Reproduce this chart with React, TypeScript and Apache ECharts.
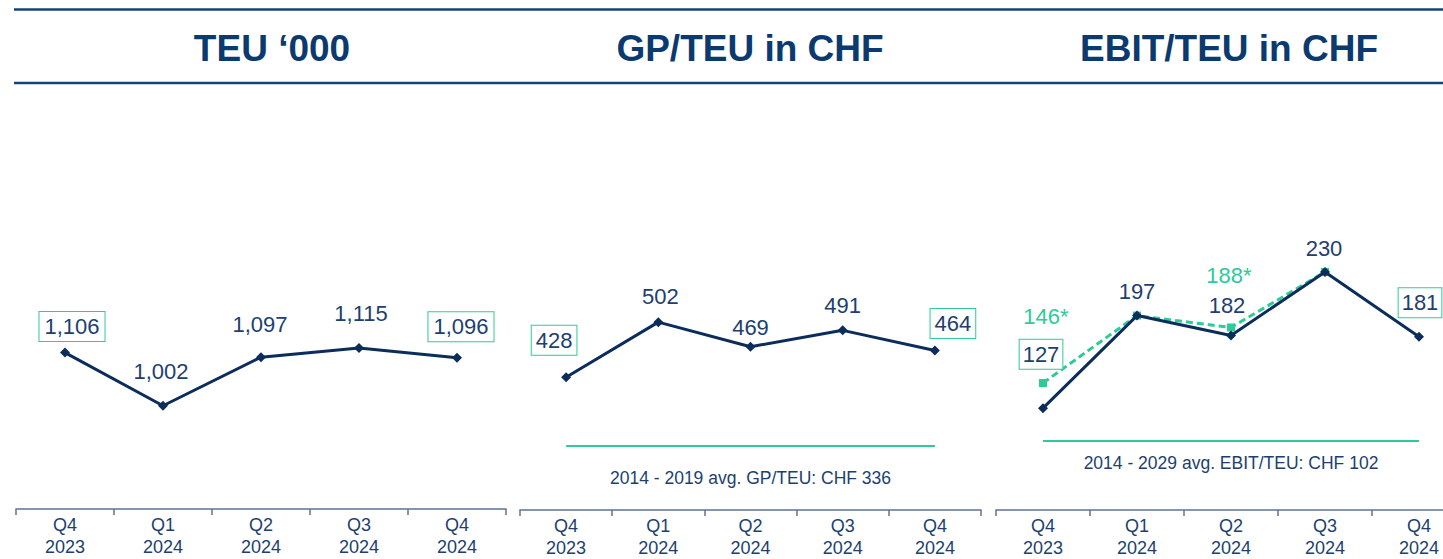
import React, { useEffect, useRef } from 'react';
import * as echarts from 'echarts';

// ---- data ----
const quarters = ['Q4', 'Q1', 'Q2', 'Q3', 'Q4'];
const years = ['2023', '2024', '2024', '2024', '2024'];
const categories = quarters.map((q, i) => `${q}\n${years[i]}`);

const titles = ['TEU \u2018000', 'GP/TEU in CHF', 'EBIT/TEU in CHF'];

const teu = [1106, 1002, 1097, 1115, 1096];
const teuBoxed = [true, false, false, false, true];

const gpPerTeu = [428, 502, 469, 491, 464];
const gpBoxed = [true, false, false, false, true];
const gpAvg = 336;
const gpAvgLabel = '2014 - 2019 avg. GP/TEU: CHF 336';

const ebitPerTeu = [127, 197, 182, 230, 181];
const ebitBoxed = [true, false, false, false, true];
const ebitAdjusted = [146, 197, 188, 230, null];
const ebitAdjustedLabelled = [true, false, true, false, false];
const ebitAvg = 102;
const ebitAvgLabel = '2014 - 2029 avg. EBIT/TEU: CHF 102';

// ---- styles ----
const NAVY = '#0b2d5b';
const TITLE = '#0b3a6f';
const TEXT = '#213f6e';
const GREEN = '#2ccb98';
const AXIS = '#5d7393';
const FONT = '"Liberation Sans", Arial, sans-serif';

const teuOffsets = [[7, -26], [-2, -34], [-1, -33], [2, -34], [4, -31]];
const gpOffsets = [[-12, -37], [2, -26], [0, -19], [0, -25], [18, -27]];
const ebitOffsets = [[-2, -54], [0, -24], [-4, -30], [-1, -23], [1, -34]];
const adjOffsets = [[3, -67], [0, 0], [-2, -52], [0, 0], [0, 0]];
const boxPadding = [[4, 5, 3, 5], [4, 4, 3, 4], [4, 3, 3, 3]];

const fmt = (v: number) => v.toLocaleString('en-US');

function labelled(values: number[], boxed: boolean[], offsets: number[][], pad: number[]) {
  return values.map((v, i) => ({
    value: v,
    label: {
      show: true,
      position: 'inside',
      offset: offsets[i],
      formatter: fmt(v),
      fontSize: 22,
      fontFamily: FONT,
      color: TEXT,
      borderColor: boxed[i] ? GREEN : 'transparent',
      borderWidth: boxed[i] ? 1 : 0,
      padding: boxed[i] ? pad : 0,
      backgroundColor: boxed[i] ? '#ffffff' : 'transparent',
    },
  }));
}

export default function App() {
  const ref = useRef<HTMLDivElement>(null);
  useEffect(() => {
    if (!ref.current) return;
    const chart = echarts.init(ref.current, undefined, { renderer: 'svg' });

    const grids = [
      { left: 16, top: 100, width: 490, height: 409 },
      { left: 520, top: 100, width: 461, height: 410 },
      { left: 996, top: 100, width: 470, height: 411 },
    ];
    const yRanges = [
      [800, 1600],
      [250, 800],
      [50, 360],
    ];

    const xAxis = grids.map((_, i) => ({
      type: 'category',
      gridIndex: i,
      data: categories,
      boundaryGap: true,
      axisLine: { show: true, lineStyle: { color: AXIS, width: 1.5 } },
      axisTick: { show: true, length: 6, lineStyle: { color: AXIS, width: 1.5 } },
      axisLabel: {
        color: TEXT,
        fontSize: 18,
        lineHeight: 22,
        fontFamily: FONT,
        margin: 5,
        interval: 0,
      },
    }));
    const yAxis = yRanges.map((r, i) => ({
      type: 'value',
      gridIndex: i,
      min: r[0],
      max: r[1],
      show: false,
      splitLine: { show: false },
    }));

    const lineBase = {
      type: 'line',
      symbol: 'diamond',
      symbolSize: 10,
      lineStyle: { color: NAVY, width: 3 },
      itemStyle: { color: NAVY },
      z: 5,
    };

    const avgMark = (value: number, text: string, distance: number) => ({
      silent: true,
      symbol: ['none', 'none'],
      lineStyle: { color: GREEN, width: 2, type: 'solid' },
      label: {
        show: true,
        position: 'insideMiddleBottom',
        distance,
        formatter: text,
        color: TEXT,
        fontSize: 17.5,
        fontFamily: FONT,
      },
      data: [[{ coord: [0, value] }, { coord: [4, value] }]],
    });

    const option = {
      animation: false,
      backgroundColor: '#ffffff',
      grid: grids,
      xAxis,
      yAxis,
      graphic: [
        { type: 'line', shape: { x1: 14, y1: 9.5, x2: 1443, y2: 9.5 }, style: { stroke: '#12437d', lineWidth: 2.5 } },
        { type: 'line', shape: { x1: 14, y1: 83, x2: 1443, y2: 83 }, style: { stroke: '#12437d', lineWidth: 2.5 } },
        ...titles.map((t, i) => ({
          type: 'text',
          x: [272, 750, 1229][i],
          y: 48,
          style: {
            text: t,
            fill: TITLE,
            font: `bold 37px ${FONT}`,
            textAlign: 'center',
            textVerticalAlign: 'middle',
          },
        })),
      ],
      series: [
        {
          ...lineBase,
          xAxisIndex: 0,
          yAxisIndex: 0,
          data: labelled(teu, teuBoxed, teuOffsets, boxPadding[0]),
        },
        {
          ...lineBase,
          xAxisIndex: 1,
          yAxisIndex: 1,
          data: labelled(gpPerTeu, gpBoxed, gpOffsets, boxPadding[1]),
          markLine: avgMark(gpAvg, gpAvgLabel, 23),
        },
        {
          type: 'line',
          xAxisIndex: 2,
          yAxisIndex: 2,
          symbol: 'rect',
          symbolSize: 8,
          lineStyle: { color: GREEN, width: 3, type: [7, 4] },
          itemStyle: { color: GREEN },
          z: 3,
          data: ebitAdjusted.map((v, i) => ({
            value: v,
            label: {
              show: ebitAdjustedLabelled[i],
              position: 'inside',
              offset: adjOffsets[i],
              formatter: v == null ? '' : `${fmt(v)}*`,
              fontSize: 22,
              fontFamily: FONT,
              color: GREEN,
            },
          })),
        },
        {
          ...lineBase,
          xAxisIndex: 2,
          yAxisIndex: 2,
          data: labelled(ebitPerTeu, ebitBoxed, ebitOffsets, boxPadding[2]),
          markLine: avgMark(ebitAvg, ebitAvgLabel, 13),
        },
      ],
    };

    chart.setOption(option as any);
    return () => chart.dispose();
  }, []);

  return (
    <div
      style={{ position: 'fixed', left: 0, top: 0, width: 1443, height: 559, overflow: 'hidden', background: '#fff' }}
    >
      <div ref={ref} style={{ width: 1480, height: 559 }} />
    </div>
  );
}
